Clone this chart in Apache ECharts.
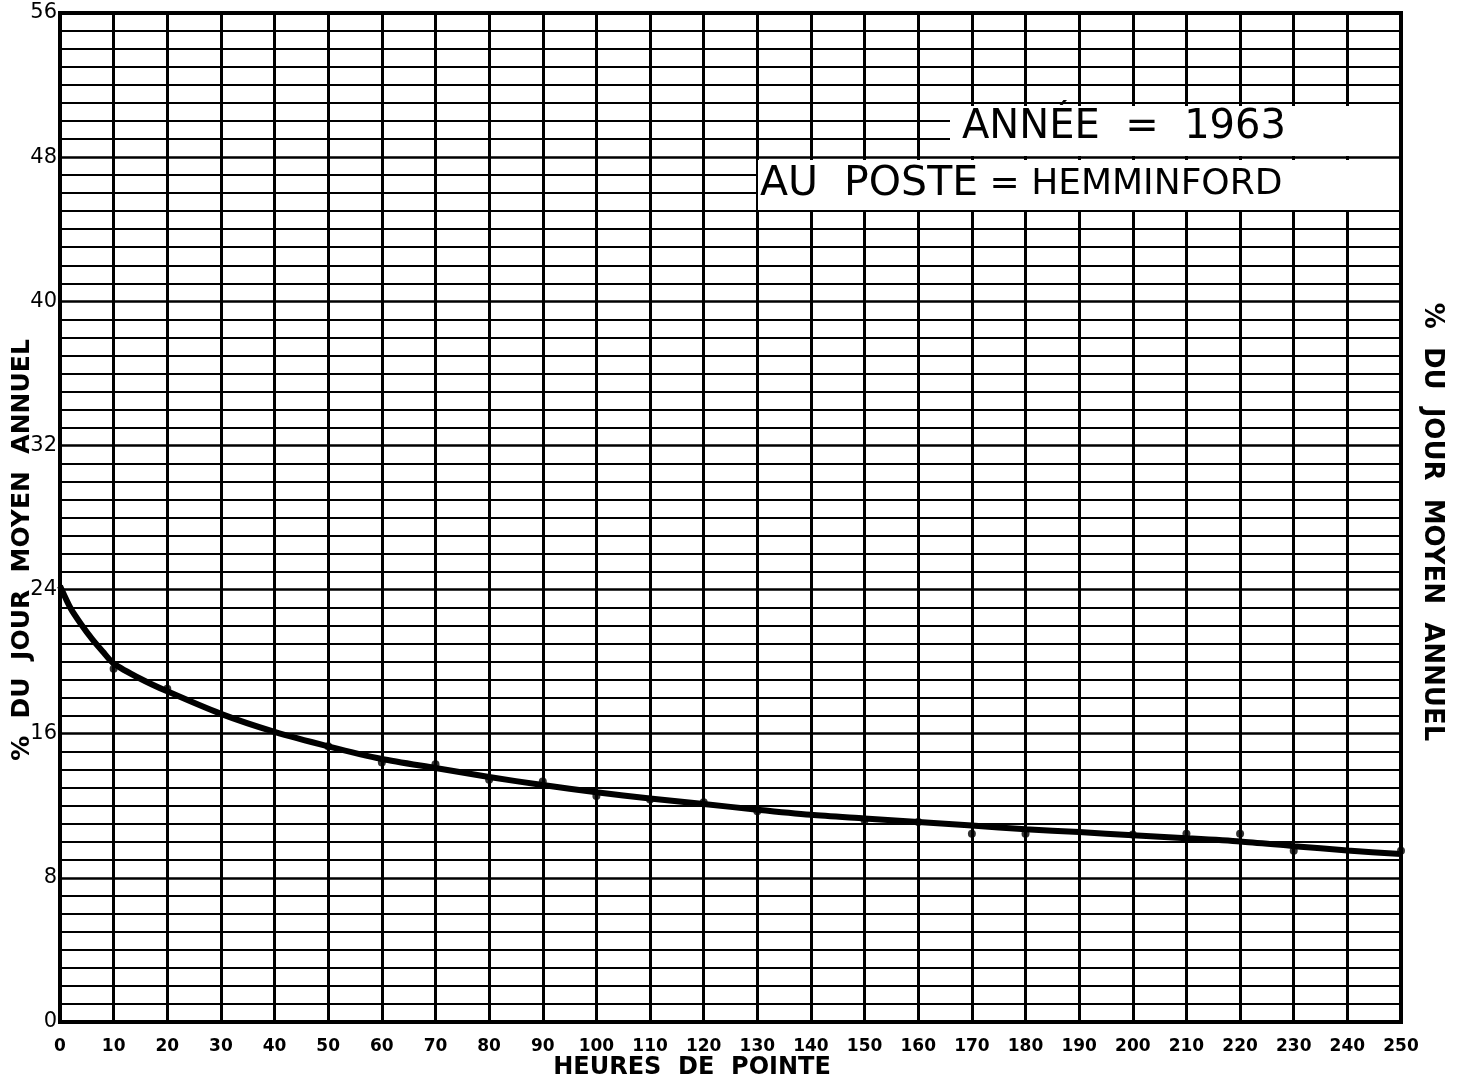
<!DOCTYPE html>
<html>
<head>
<meta charset="utf-8">
<script src="https://cdn.jsdelivr.net/npm/echarts@6/dist/echarts.min.js"></script>
<style>
html,body{margin:0;padding:0;background:#fff;}
#chart{width:1466px;height:1080px;}
</style>
</head>
<body>
<div id="chart"></div>
<script>
// Curve (hand-drawn smooth line)
const curveX = [0, 2, 4, 6, 8, 10, 15, 20, 30, 40, 50, 60, 70, 80, 90, 100, 110, 120, 130, 140, 150, 160, 170, 180, 190, 200, 210, 220, 230, 240, 250];
const curveY = [24.2, 22.95, 22.05, 21.25, 20.55, 19.9, 19.05, 18.35, 17.1, 16.1, 15.3, 14.6, 14.1, 13.6, 13.15, 12.75, 12.4, 12.1, 11.78, 11.5, 11.3, 11.1, 10.9, 10.7, 10.54, 10.36, 10.2, 10.02, 9.76, 9.52, 9.32];
// Plotted observation dots
const dotX = [10, 20, 50, 60, 70, 80, 90, 100, 110, 120, 130, 150, 160, 170, 180, 200, 210, 220, 230, 250];
const dotY = [19.6, 18.5, 15.3, 14.4, 14.3, 13.45, 13.35, 12.55, 12.35, 12.2, 11.7, 11.2, 11.1, 10.45, 10.45, 10.4, 10.45, 10.45, 9.5, 9.5];
// Axis ranges / tick labels
const xTicks = [0, 250, 10];
const yTicks = [0, 56, 8];
const xTitle = 'HEURES  DE  POINTE';
const yTitle = '%  DU  JOUR  MOYEN  ANNUEL';
const titleYear = 'ANNÉE  =  1963';
const titlePost = 'AU  POSTE';
const titleStation = ' = HEMMINFORD';

const chart = echarts.init(document.getElementById('chart'));
const FONT = '"DejaVu Sans", sans-serif';

const curve = curveX.map((x, i) => [x, curveY[i]]);
const dots = dotX.map((x, i) => [x, dotY[i]]);

chart.setOption({
  backgroundColor: '#fff',
  animation: false,
  grid: {left: 60, right: 65, top: 13, bottom: 58, containLabel: false, outerBoundsMode: 'none',
         show: true, borderColor: '#000', borderWidth: 4, backgroundColor: 'transparent'},
  xAxis: {
    type: 'value', min: xTicks[0], max: xTicks[1], interval: xTicks[2],
    axisLine: {show: true, lineStyle: {color: '#000', width: 4}},
    axisTick: {show: false},
    axisLabel: {color: '#000', fontFamily: FONT, fontWeight: 'bold', fontSize: 17, margin: 16},
    splitLine: {show: true, lineStyle: {color: '#000', width: 3}}
  },
  yAxis: {
    type: 'value', min: yTicks[0], max: yTicks[1], interval: yTicks[2],
    axisLine: {show: true, lineStyle: {color: '#000', width: 4}},
    axisTick: {show: false},
    axisLabel: {color: '#000', fontFamily: FONT, fontSize: 21, margin: 3},
    splitLine: {show: true, lineStyle: {color: '#000', width: 2.5}},
    minorTick: {show: false, splitNumber: 8},
    minorSplitLine: {show: true, lineStyle: {color: '#000', width: 2}}
  },
  series: [
    {type: 'line', data: curve, smooth: 0.25, showSymbol: false, lineStyle: {color: '#000', width: 6}, z: 5},
    {type: 'scatter', data: dots, symbolSize: 8, itemStyle: {color: '#000'}, z: 6}
  ],
  graphic: [
    {type: 'rect', z: 50, shape: {x: 950, y: 106, width: 449, height: 50}, style: {fill: '#fff'}},
    {type: 'rect', z: 50, shape: {x: 758, y: 160, width: 641, height: 50}, style: {fill: '#fff'}},
    {type: 'text', z: 60, left: 962, top: 108, style: {text: titleYear, fill: '#000', font: '40px ' + FONT}},
    {type: 'text', z: 60, left: 760, top: 164, style: {
      text: '{a|' + titlePost + '}{b|' + titleStation + '}',
      rich: {
        a: {fontSize: 41, fontFamily: FONT, fill: '#000', color: '#000'},
        b: {fontSize: 36, fontFamily: FONT, fill: '#000', color: '#000'}
      }
    }},
    {type: 'text', z: 60, x: 692, y: 1068, style: {
      text: xTitle, fill: '#000', font: 'bold 24px ' + FONT, align: 'center', verticalAlign: 'middle'
    }},
    {type: 'text', z: 60, x: 22, y: 550, rotation: Math.PI / 2, style: {
      text: yTitle, fill: '#000', font: 'bold 25px ' + FONT, align: 'center', verticalAlign: 'middle'
    }},
    {type: 'text', z: 60, x: 1432, y: 522, rotation: -Math.PI / 2, style: {
      text: yTitle, fill: '#000', font: 'bold 26px ' + FONT, align: 'center', verticalAlign: 'middle'
    }}
  ]
});
</script>
</body>
</html>
